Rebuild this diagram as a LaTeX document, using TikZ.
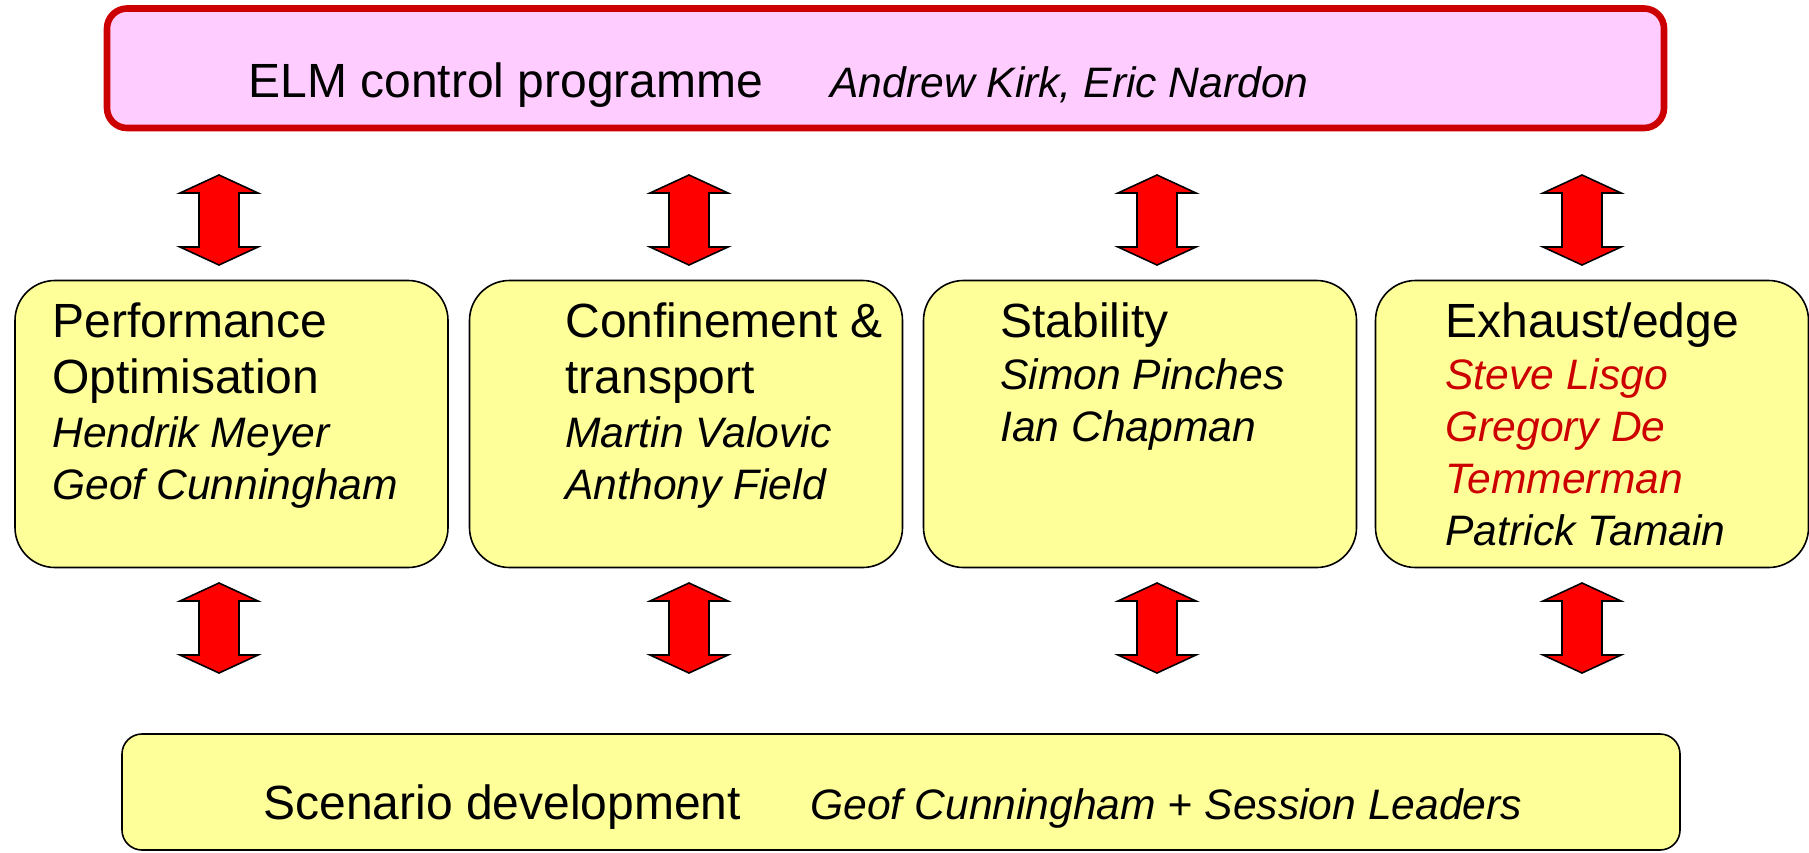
\documentclass[tikz,border=0pt]{standalone}
\usepackage{fontspec}
\setmainfont{Liberation Sans}
\usetikzlibrary{positioning}

\definecolor{elmpink}{RGB}{255,204,255}
\definecolor{elmred}{RGB}{204,0,0}
\definecolor{boxyellow}{RGB}{255,255,153}

\newcommand{\titlefont}{\fontsize{24}{26}\selectfont}
\newcommand{\namefont}{\fontsize{21.3}{26}\selectfont\itshape}

\begin{document}
\begin{tikzpicture}[x=0.5pt,y=-0.5pt,
    topbox/.style={draw=elmred,line width=3.3pt,fill=elmpink,rounded corners=10pt,
      minimum width=778.5pt,minimum height=59.75pt},
    areabox/.style={draw,line width=0.8pt,fill=boxyellow,rounded corners=20pt,
      minimum width=216.5pt,minimum height=143.5pt},
    basebox/.style={draw,line width=0.8pt,fill=boxyellow,rounded corners=10pt,
      minimum width=779pt,minimum height=58pt},
    txt/.style={inner sep=0pt,anchor=base west,font=\titlefont},
    blockarrow/.style={fill=red,draw=black,line width=0.8pt,line join=miter}]
  \useasboundingbox (0,0) rectangle (1809,852);

  % programme and scenario boxes
  \node[topbox] (elm) at (885.5,68.25) {};
  \node[txt] (elmtitle) at (248,97) {ELM control programme};
  \node[txt,font=\namefont] (elmnames) at (830,97) {Andrew Kirk, Eric Nardon};

  \node[basebox] (scen) at (901,792) {};
  \node[txt] (scentitle) at (263,819) {Scenario development};
  \node[txt,font=\namefont] (scennames) at (810,819) {Geof Cunningham + Session Leaders};

  % the four areas
  \node[areabox] (perf) at (231.5,424) {};
  \node[areabox] (conf) at (686,424) {};
  \node[areabox] (stab) at (1140,424) {};
  \node[areabox] (exh) at (1592,424) {};

  \node[txt] (perftext) at (52,337) {\begin{tabular}[t]{@{}l@{}}
    Performance\\[2pt]Optimisation\\[1pt]\namefont Hendrik Meyer\\\namefont Geof Cunningham
    \end{tabular}};
  \node[txt] (conftext) at (565,337) {\begin{tabular}[t]{@{}l@{}}
    Confinement \&\\[2pt]transport\\[1pt]\namefont Martin Valovic\\\namefont Anthony Field
    \end{tabular}};
  \node[txt] (stabtext) at (1000,337) {\begin{tabular}[t]{@{}l@{}}
    Stability\\\namefont Simon Pinches\\\namefont Ian Chapman
    \end{tabular}};
  \node[txt] (exhtext) at (1445,337) {\begin{tabular}[t]{@{}l@{}}
    Exhaust/edge\\\namefont\color{elmred}Steve Lisgo\\\namefont\color{elmred}Gregory De\\
    \namefont\color{elmred}Temmerman\\\namefont Patrick Tamain
    \end{tabular}};

  % block arrows between the rows
  \foreach \ax in {219,689,1157,1582}
    \foreach \ay in {175,583}
      \draw[blockarrow] (\ax,\ay) -- ++(39,18) -- ++(-19,0) -- ++(0,54) -- ++(19,0)
        -- ++(-39,18) -- ++(-39,-18) -- ++(19,0) -- ++(0,-54) -- ++(-19,0) -- cycle;
\end{tikzpicture}
\end{document}
